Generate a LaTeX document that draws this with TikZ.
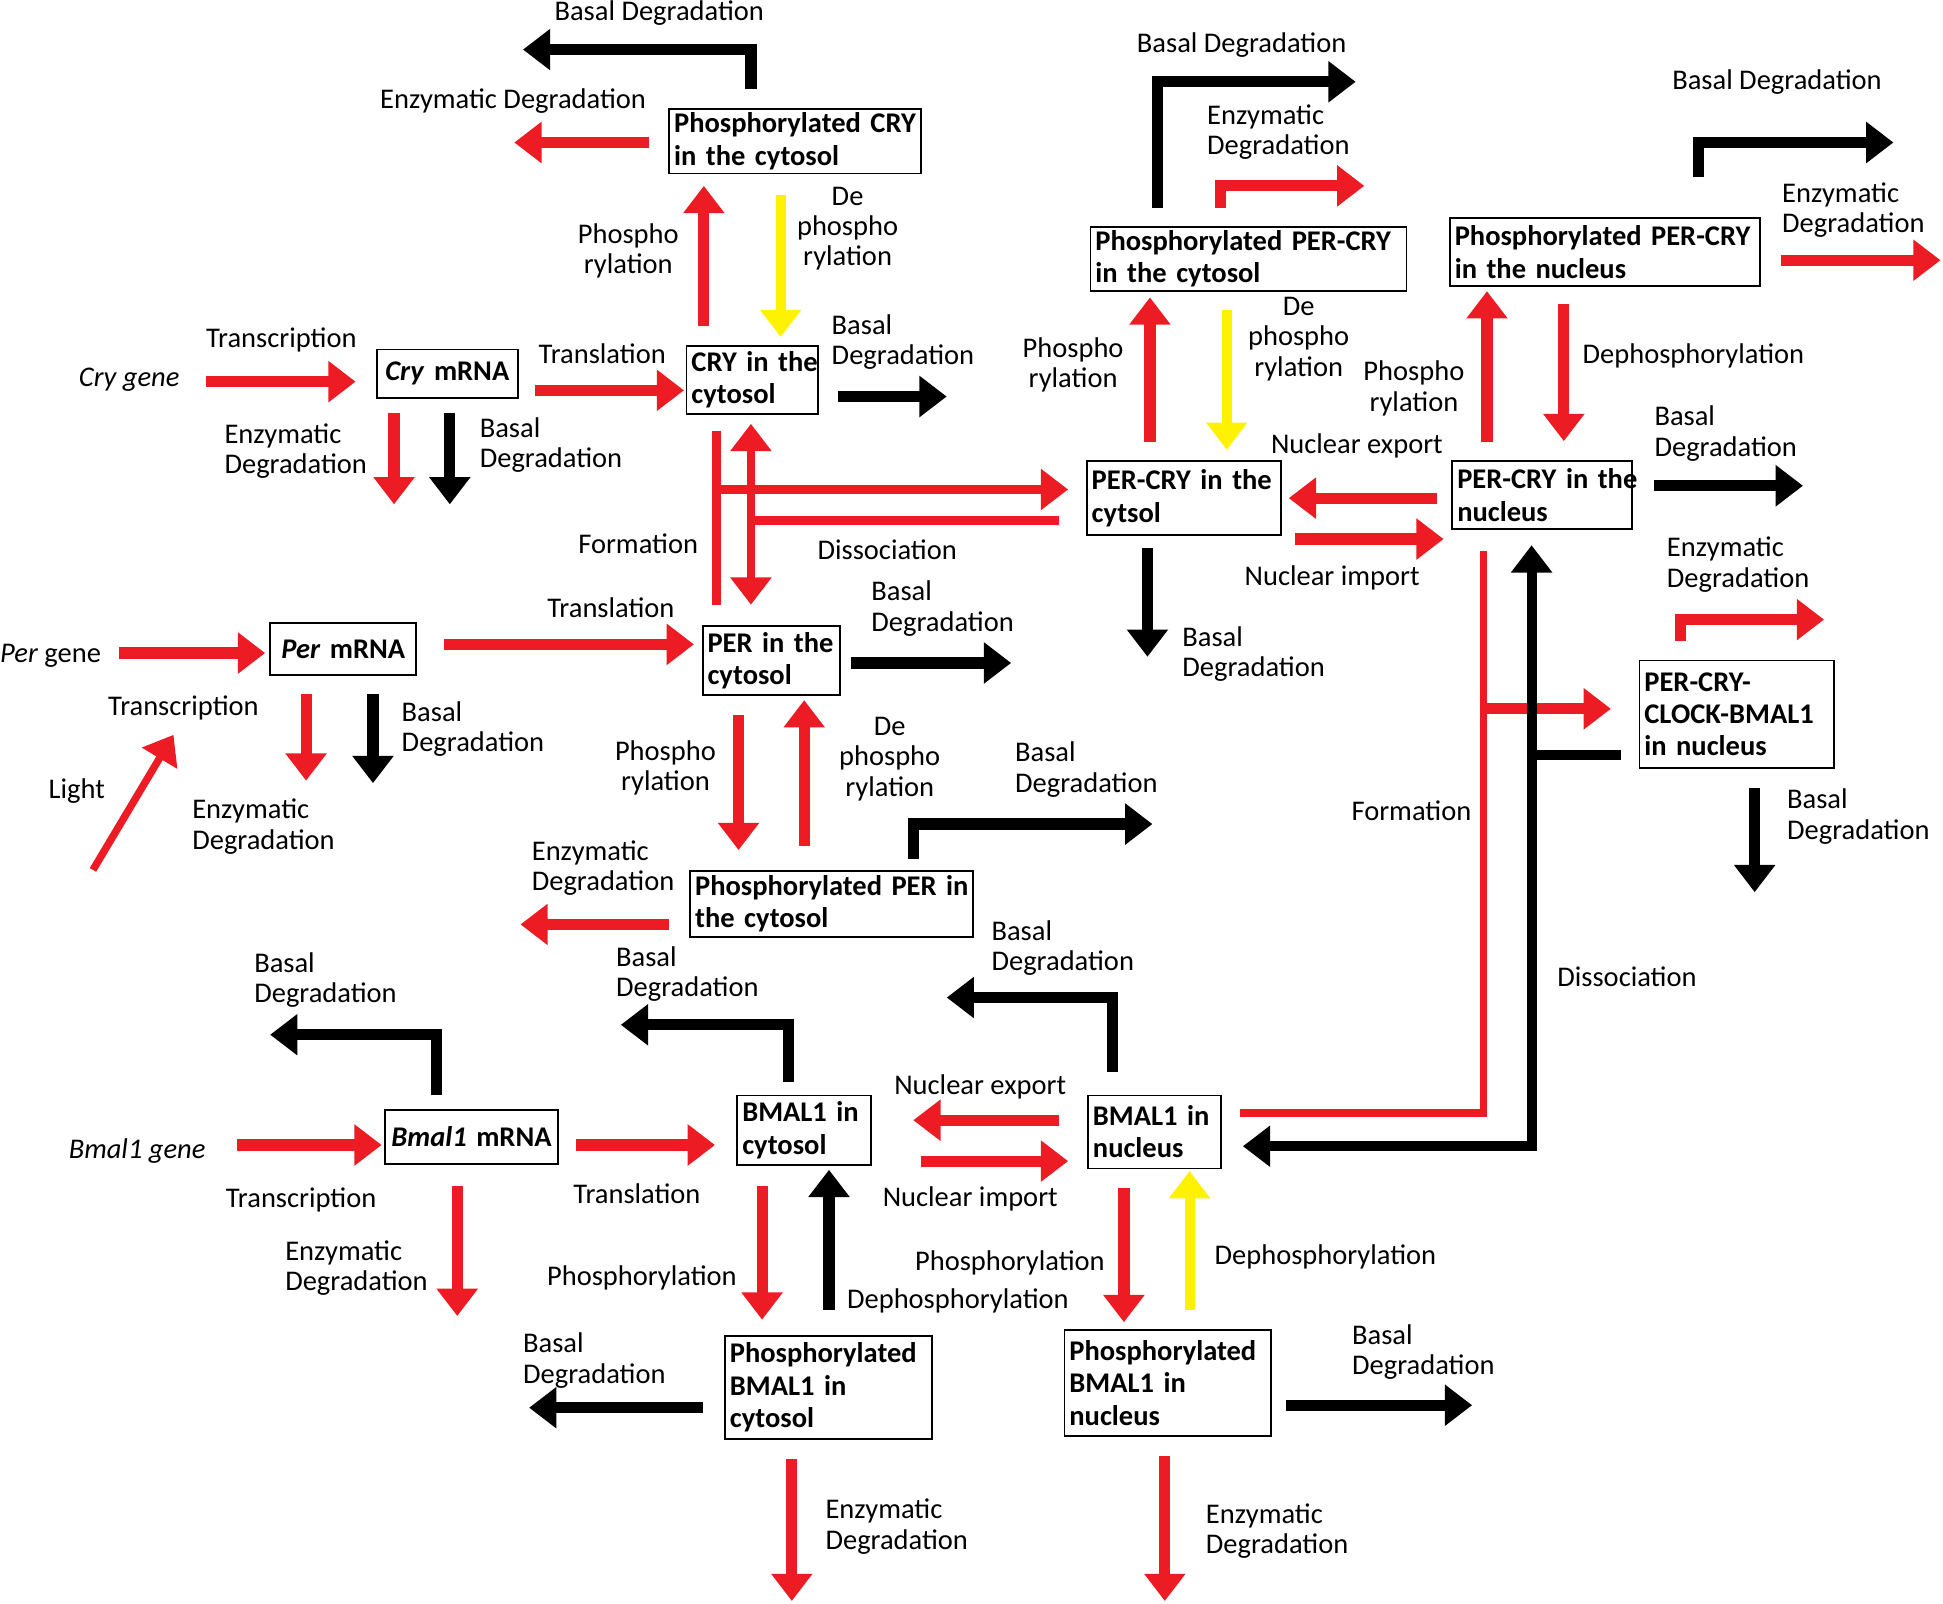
\documentclass[tikz,border=0pt]{standalone}
\usepackage{fontspec}
\setmainfont{Carlito}
\usetikzlibrary{arrows.meta,calc}
\definecolor{rd}{HTML}{ED1C24}
\definecolor{yl}{HTML}{FFF200}
\newcommand{\lne}[1]{\mbox{#1}}
\begin{document}
\begin{tikzpicture}[x=1pt,y=-1pt,line join=miter,
  >={Triangle[length=22pt,width=32pt]},
  box/.style={draw,line width=1.5pt,inner xsep=4pt,inner ysep=0pt,outer sep=0pt,font=\bfseries\fontsize{23}{26}\selectfont,align=left},
  boxc/.style={box,align=center},
  lab/.style={inner sep=0pt,yshift=-1.5pt,font=\fontsize{23}{24.5}\selectfont,align=left},
  labc/.style={lab,align=center},
  rar/.style={draw=rd,line width=9pt,->},
  kar/.style={draw=black,line width=9pt,->},
  yar/.style={draw=yl,line width=8pt,->},
  rline/.style={draw=rd,line width=7pt},
  kline/.style={draw=black,line width=8pt}]
\fill[white] (0,0) rectangle (1568,1294);
\useasboundingbox (0,0) rectangle (1568,1294);

% ---------------- boxes ----------------
\node[box,minimum width=203pt,minimum height=52pt,text width=195pt] (pcry) at (641.5,114) {\lne{Phosphorylated CRY}\\\lne{in the cytosol}};
\node[box,minimum width=106pt,minimum height=55pt,text width=98pt] (crycyt) at (607,306.5) {\lne{CRY in the}\\\lne{cytosol}};
\node[boxc,minimum width=114pt,minimum height=39pt,text width=106pt] (crymrna) at (361,301.5) {\lne{\textit{Cry} mRNA}};
\node[boxc,minimum width=118pt,minimum height=42pt,text width=110pt] (permrna) at (277,524) {\lne{\textit{Per} mRNA}};
\node[box,minimum width=111pt,minimum height=56pt,text width=103pt] (percyt) at (622.5,533) {\lne{PER in the}\\\lne{cytosol}};
\node[box,minimum width=228pt,minimum height=53pt,text width=220pt] (pper) at (671,729.5) {\lne{Phosphorylated PER in}\\\lne{the cytosol}};
\node[boxc,minimum width=139pt,minimum height=43pt,text width=131pt] (bmrna) at (380.5,917.5) {\lne{\textit{Bmal1} mRNA}};
\node[box,minimum width=108pt,minimum height=56pt,text width=100pt] (bcyt) at (649,912) {\lne{BMAL1 in}\\\lne{cytosol}};
\node[box,minimum width=167pt,minimum height=83pt,text width=159pt] (pbcyt) at (668.5,1119.5) {\lne{Phosphorylated}\\\lne{BMAL1 in}\\\lne{cytosol}};
\node[box,minimum width=107pt,minimum height=59pt,text width=99pt] (bnuc) at (931.5,913.5) {\lne{BMAL1 in}\\\lne{nucleus}};
\node[box,minimum width=167pt,minimum height=86pt,text width=159pt] (pbnuc) at (942.5,1116) {\lne{Phosphorylated}\\\lne{BMAL1 in}\\\lne{nucleus}};
\node[box,minimum width=157pt,minimum height=60pt,text width=149pt] (pccyt) at (955.5,402) {\lne{PER-CRY in the}\\\lne{cytsol}};
\node[box,minimum width=145pt,minimum height=55pt,text width=137pt] (pcnuc) at (1244.5,399.5) {\lne{PER-CRY in the}\\\lne{nucleus}};
\node[box,minimum width=255pt,minimum height=52pt,text width=247pt] (ppccyt) at (1007.5,209) {\lne{Phosphorylated PER-CRY}\\\lne{in the cytosol}};
\node[box,minimum width=250pt,minimum height=55pt,text width=242pt] (ppcnuc) at (1295,203.5) {\lne{Phosphorylated PER-CRY}\\\lne{in the nucleus}};
\node[box,minimum width=157pt,minimum height=87pt,text width=149pt] (cplx) at (1401.5,576.5) {\lne{PER-CRY-}\\\lne{CLOCK-BMAL1}\\\lne{in nucleus}};

% ---------------- labels ----------------
\node[lab] (l01) at (532,9) {Basal Degradation};
\node[lab] (l02) at (414,80) {Enzymatic Degradation};
\node[labc] (l03) at (507,201) {Phospho\\rylation};
\node[labc] (l04) at (684,183) {De\\phospho\\rylation};
\node[lab,anchor=west] (l05) at (671,274.5) {Basal\\Degradation};
\node[lab] (l06) at (227,273) {Transcription};
\node[lab,anchor=east] (crygene) at (145,305) {\textit{Cry gene}};
\node[lab] (l08) at (486,284) {Translation};
\node[lab,anchor=west] (l09) at (181,362.5) {Enzymatic\\Degradation};
\node[lab,anchor=west] (l10) at (387,357.5) {Basal\\Degradation};
\node[lab] (l11) at (515,437) {Formation};
\node[lab] (l12) at (716,442) {Dissociation};
\node[lab] (l13) at (493,489) {Translation};
\node[lab,anchor=west] (l14) at (703,489.5) {Basal\\Degradation};
\node[lab,anchor=west] (pergene) at (0,528) {\textit{Per} gene};
\node[lab] (tr2) at (148,570) {Transcription};
\node[lab,anchor=west] (l17) at (324,587) {Basal\\Degradation};
\node[lab] (light) at (62,637) {Light};
\node[lab,anchor=west] (l19) at (155,665.5) {Enzymatic\\Degradation};
\node[labc] (l20) at (537,618) {Phospho\\rylation};
\node[labc] (l21) at (718,611) {De\\phospho\\rylation};
\node[lab,anchor=west] (l22) at (819,619.5) {Basal\\Degradation};
\node[lab,anchor=west] (l23) at (429,699) {Enzymatic\\Degradation};
\node[lab,anchor=west] (l24) at (205,789.5) {Basal\\Degradation};
\node[lab,anchor=west] (l25) at (497,784.5) {Basal\\Degradation};
\node[lab,anchor=west] (l26) at (800,763.5) {Basal\\Degradation};
\node[lab,anchor=east] (bmgene) at (166,927) {\textit{Bmal1 gene}};
\node[lab] (l28) at (243,967) {Transcription};
\node[lab] (l29) at (514,962) {Translation};
\node[lab] (l30) at (791,876) {Nuclear export};
\node[lab] (l31) at (783,966) {Nuclear import};
\node[lab,anchor=west] (l32) at (230,1022) {Enzymatic\\Degradation};
\node[lab] (l33) at (518,1030) {Phosphorylation};
\node[lab] (l34) at (773,1048) {Dephosphorylation};
\node[lab] (l35) at (815,1018) {Phosphorylation};
\node[lab,anchor=west] (l36) at (980,1013) {Dephosphorylation};
\node[lab,anchor=west] (l37) at (422,1096.5) {Basal\\Degradation};
\node[lab,anchor=west] (l38) at (1091,1089.5) {Basal\\Degradation};
\node[lab,anchor=west] (l39) at (666,1230.5) {Enzymatic\\Degradation};
\node[lab,anchor=west] (l40) at (973,1234) {Enzymatic\\Degradation};
\node[lab] (l41) at (1002,35) {Basal Degradation};
\node[lab,anchor=west] (l42) at (974,105) {Enzymatic\\Degradation};
\node[lab] (l43) at (1434,65) {Basal Degradation};
\node[lab,anchor=west] (l44) at (1438,168) {Enzymatic\\Degradation};
\node[labc] (l45) at (866,293) {Phospho\\rylation};
\node[labc] (l46) at (1048,272) {De\\phospho\\rylation};
\node[labc] (l47) at (1141,312) {Phospho\\rylation};
\node[lab,anchor=west] (l48) at (1277,286) {Dephosphorylation};
\node[lab] (l49) at (1095,358) {Nuclear export};
\node[lab,anchor=west] (l50) at (1335,348.5) {Basal\\Degradation};
\node[lab] (l51) at (1075,465) {Nuclear import};
\node[lab,anchor=west] (l52) at (954,526.5) {Basal\\Degradation};
\node[lab,anchor=west] (l53) at (1345,454) {Enzymatic\\Degradation};
\node[lab] (l54) at (1139,653) {Formation};
\node[lab,anchor=west] (l55) at (1442,657.5) {Basal\\Degradation};
\node[lab] (l56) at (1313,787) {Dissociation};

% ---------------- CRY ----------------
\draw[kar] ($(pcry.north)+(-35.5,-16)$) -- ++(0,-32) -- ++(-184,0);
\draw[rar] ($(pcry.west)+(-16,1)$) -- ++(-109,0);
\draw[rar] ($(crycyt.north)+(-39,-16)$) -- ($(pcry.south)+(-73.5,10)$);
\draw[yar] ($(pcry.south)+(-11.5,17)$) -- ($(crycyt.north)+(23,-7)$);
\draw[kar] ($(crycyt.east)+(16,13.5)$) -- ++(88,0);
\draw[rar] ($(crygene.east)+(21,1.5)$) -- ($(crymrna.west)+(-17,6.5)$);
\draw[rar] ($(crymrna.east)+(14,13.5)$) -- ($(crycyt.west)+(-2,8.5)$);
\draw[rar] ($(crymrna.south)+(-43,12)$) -- ++(0,74);
\draw[kar] ($(crymrna.south)+(2,12)$) -- ++(0,74);

% formation / dissociation (cytosol)
\draw[rline] ($(crycyt.south)+(-29,14)$) -- ($(percyt.north)+(-44.5,-17)$);
\draw[rar,line width=8pt] ($(crycyt.south)+(-29,61)$) -- ($(pccyt.west)+(-15,-7)$);
\draw[rline,line width=8pt] ($(pccyt.west)+(-22,18)$) -- ($(crycyt.south)+(-1,86)$);
\draw[rline,<->] ($(crycyt.south)+(-1,8)$) -- ($(percyt.north)+(-16.5,-17)$);

% ---------------- PER ----------------
\draw[rar] ($(pergene.west)+(96,-2.5)$) -- ($(permrna.west)+(-4,3)$);
\draw[rar] ($(permrna.east)+(22,-4)$) -- ($(percyt.west)+(-7,-13)$);
\draw[kar] ($(percyt.east)+(9,2)$) -- ++(129,0);
\draw[rar] ($(permrna.south)+(-30,15)$) -- ++(0,70);
\draw[kar] ($(permrna.south)+(24,15)$) -- ++(0,72);
\coordinate (lt) at (75,702);
\draw[rar,line width=6pt] (lt) -- ($(tr2.center)+(-8,21.5)$);
\draw[rar] ($(percyt.south)+(-26.5,16)$) -- ($(pper.north)+(-75,-17)$);
\draw[rar] ($(pper.north)+(-22,-20)$) -- ($(percyt.south)+(26.5,4)$);
\draw[kar] ($(pper.north)+(66,-10)$) -- ++(0,-28) -- ++(193,0);
\draw[rar] ($(pper.west)+(-17,16.5)$) -- ++(-120,0);

% ---------------- BMAL1 ----------------
\draw[rar] ($(bmgene.east)+(25,-4.5)$) -- ($(bmrna.west)+(-3,6.5)$);
\draw[kar] ($(bmrna.north)+(-28.5,-12)$) -- ++(0,-49) -- ++(-134,0);
\draw[rar] ($(bmrna.east)+(15,6.5)$) -- ($(bcyt.west)+(-18,12)$);
\draw[rar] ($(bmrna.south)+(-11.5,18)$) -- ++(0,105);
\draw[kar] ($(bcyt.north)+(-13,-11)$) -- ++(0,-46) -- ++(-135,0);
\draw[rar] ($(bcyt.south)+(-34,17)$) -- ($(pbcyt.north)+(-53.5,-13)$);
\draw[kar] ($(pbcyt.north)+(0.5,-21)$) -- ($(bcyt.south)+(20,4)$);
\draw[kar] ($(pbcyt.west)+(-18,16.5)$) -- ++(-140,0);
\draw[rar] ($(pbcyt.south)+(-29.5,16)$) -- ++(0,115);
\draw[rar] ($(bnuc.west)+(-23,-9.5)$) -- ($(bcyt.east)+(34,-8)$);
\draw[rar] ($(bcyt.east)+(40,25)$) -- ($(bnuc.west)+(-16,23.5)$);
\draw[kar] ($(bnuc.north)+(-33.5,-19)$) -- ++(0,-60) -- ++(-134,0);
\draw[rar] ($(bnuc.south)+(-24.5,16)$) -- ($(pbnuc.north)+(-35.5,-6)$);
\draw[yar] ($(pbnuc.north)+(17.5,-16)$) -- ($(bnuc.south)+(28.5,2)$);
\draw[kar] ($(pbnuc.east)+(12,18)$) -- ++(150,0);
\draw[rar] ($(pbnuc.south)+(-2.5,16)$) -- ++(0,117);

% formation / dissociation (nucleus)
\draw[rline,line width=6pt] ($(bnuc.east)+(16,-15.5)$) -| ($(pcnuc.south)+(-47.5,18)$);
\draw[rar] ($(pcnuc.south)+(-47.5,145)$) -- ($(cplx.west)+(-23,-4.5)$);
\coordinate (dj) at ($(pcnuc.south)+(-8.5,498)$);
\draw[kline,<->] ($(bnuc.east)+(18,11.5)$) -- (dj) -- ($(pcnuc.south)+(-8.5,13)$);
\draw[kline] ($(cplx.west)+(-15,32.5)$) -- ($(dj)+(0,-316)$);
\draw[rar] ($(cplx.north)+(-45.5,-16)$) -- ++(0,-17) -- ++(116,0);
\draw[kar] ($(cplx.south)+(14.5,16)$) -- ++(0,84);

% ---------------- PER-CRY ----------------
\draw[rar] ($(pcnuc.west)+(-12,2.5)$) -- ($(pccyt.east)+(6,0)$);
\draw[rar] ($(pccyt.east)+(11,33)$) -- ($(pcnuc.west)+(-7,35.5)$);
\draw[kar] ($(pccyt.south)+(-29.5,10)$) -- ++(0,88);
\draw[kar] ($(pcnuc.east)+(18,-7.5)$) -- ++(120,0);
\draw[rar] ($(pccyt.north)+(-27.5,-15)$) -- ($(ppccyt.south)+(-79.5,5)$);
\draw[yar] ($(ppccyt.south)+(-17.5,15)$) -- ($(pccyt.north)+(34.5,-9)$);
\draw[kar] ($(ppccyt.north)+(-73.5,-15)$) -- ++(0,-102) -- ++(160,0);
\draw[rar] ($(ppccyt.north)+(-22.5,-15)$) -- ++(0,-18) -- ++(116,0);
\draw[rar] ($(pcnuc.north)+(-44.5,-15)$) -- ($(ppcnuc.south)+(-95,4)$);
\draw[rar] ($(ppcnuc.south)+(-33,14)$) -- ($(pcnuc.north)+(17.5,-16)$);
\draw[kar] ($(ppcnuc.north)+(76,-33)$) -- ++(0,-28) -- ++(157,0);
\draw[rar] ($(ppcnuc.east)+(17,6.5)$) -- ++(129,0);
\end{tikzpicture}
\end{document}
